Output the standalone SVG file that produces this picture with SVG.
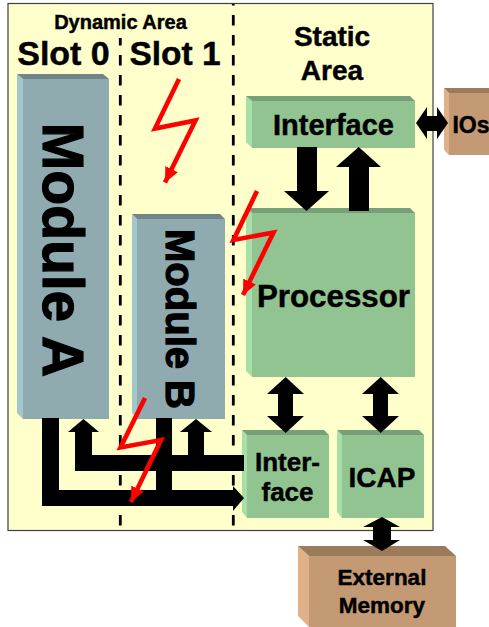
<svg xmlns="http://www.w3.org/2000/svg" width="489" height="627" viewBox="0 0 489 627">
<style>
text{font-family:"Liberation Sans",Arial,sans-serif;font-weight:bold;fill:#000;stroke:#000;stroke-width:.45;text-anchor:middle}
.heavy{stroke-width:1.2}
.gf{fill:#92C492}.gl{fill:#A6E0A6}.gt{fill:#78A078}
.bf{fill:#8FABAF}.bl{fill:#A3C6CC}.bt{fill:#6F8587}
.tf{fill:#C49A74}.tl{fill:#E0B088}.tt{fill:#9C7B5C}
.dash{stroke:#000;stroke-width:2.8;stroke-dasharray:10.500 9.500;fill:none}
.arrow{fill:#000}
.bolt{fill:none;stroke:#FF0000;stroke-width:4.600;stroke-linejoin:miter;marker-end:url(#tip)}
</style>
<defs>
<marker id="tip" markerUnits="userSpaceOnUse" markerWidth="15" markerHeight="15" refX="15" refY="7.500" orient="auto" viewBox="0 0 15 15">
<path d="M0,0.500L15,7.500L0,14.500Z" fill="#FF0000"/>
</marker>
</defs>
<rect x="8" y="3.500" width="425" height="527" fill="#FFFFCC" stroke="#404040" stroke-width="1.200"/>
<g id="dividers">
<path class="dash" stroke-dashoffset="3" d="M120.300,38V530"/>
<path class="dash" stroke-dashoffset="9" d="M233.300,4V530"/>
</g>
<g id="labels">
<text x="120.500" y="29" font-size="20">Dynamic Area</text>
<text x="63.500" y="65" font-size="34">Slot 0</text>
<text x="175" y="65" font-size="33.500">Slot 1</text>
<text x="332" y="46" font-size="28">Static</text>
<text x="332" y="80" font-size="28">Area</text>
</g>
<g id="module-a">
<path class="bl" d="M17,74L23,79V419L17,413Z"/><path class="bt" d="M17,74H103L109,79H23Z"/><rect class="bf" x="23" y="79" width="86" height="340"/>
<text class="heavy" transform="translate(43,250) rotate(90)" font-size="57">Module A</text>
</g>
<g id="module-b">
<path class="bl" d="M132,214L137,219V419L132,413Z"/><path class="bt" d="M132,214H220L225,219H137Z"/><rect class="bf" x="137" y="219" width="88" height="200"/>
<text class="heavy" transform="translate(166,319) rotate(90)" font-size="40">Module B</text>
</g>
<g id="interface-top">
<path class="gl" d="M246,96L252,101V148L246,142Z"/><path class="gt" d="M246,96H410L415,101H252Z"/><rect class="gf" x="252" y="101" width="163" height="47"/>
<text x="333.500" y="135" font-size="29">Interface</text>
</g>
<g id="ios">
<path class="tl" d="M444,88L449,93V155L444,150Z"/><path class="tt" d="M444,88H489V93H449Z"/><rect class="tf" x="449" y="93" width="40" height="62"/>
<text x="471" y="133" font-size="23">IOs</text>
</g>
<g id="processor">
<path class="gl" d="M246,208L252,213V377L246,371Z"/><path class="gt" d="M246,208H410L415,213H252Z"/><rect class="gf" x="252" y="213" width="163" height="164"/>
<text x="333.500" y="307" font-size="31.300">Processor</text>
</g>
<g id="interface-bottom">
<path class="gl" d="M242,430L247,435V518L242,512Z"/><path class="gt" d="M242,430H324L329,435H247Z"/><rect class="gf" x="247" y="435" width="82" height="83"/>
<text x="287.500" y="471" font-size="26">Inter-</text>
<text x="287.500" y="501" font-size="26">face</text>
</g>
<g id="icap">
<path class="gl" d="M337,430L342,435V518L337,512Z"/><path class="gt" d="M337,430H419L424,435H342Z"/><rect class="gf" x="342" y="435" width="82" height="83"/>
<text x="382" y="487" font-size="28">ICAP</text>
</g>
<g id="external-memory">
<path class="tl" d="M298,546L309,556V627L298,616Z"/><path class="tt" d="M298,546H445L456,556H309Z"/><rect class="tf" x="309" y="556" width="147" height="71"/>
<text x="382" y="585" font-size="22.500">External</text>
<text x="382" y="613" font-size="22.500">Memory</text>
</g>
<g id="connectors">
<path class="arrow" d="M297,147H317V191H329L306.500,211L284,191H297Z"/>
<path class="arrow" d="M349,211V167H336L358.700,147L381,167H369V211Z"/>
<path class="arrow" d="M416,123L427,107V116H437V107L448,123L437,139V131H427V139Z"/>
<path class="arrow" d="M285.700,377L304,394H293V416H304L285.700,433L267,416H278V394H267Z"/>
<path class="arrow" d="M380.700,377L399,394H388V416H399L380.700,433L362,416H373V394H362Z"/>
<path class="arrow" d="M382,517L400,527H391V540H400L382,551L363,540H373V527H363Z"/>
<path class="arrow" d="M42,418H59V490H156V418H172V490H233V486L244,498L233,511V506H42Z"/>
<path class="arrow" d="M75,471V432H68L83.500,419L99,432H92V455H188V432H180L196,419L212,432H204V455H244V471Z"/>
</g>
<g id="faults">
<path class="bolt" d="M179,79L155,128.500L195.500,120.500L165,182.500"/>
<path class="bolt" d="M257,191L233.500,240L273.500,232.500L243,295"/>
<path class="bolt" d="M145,398L120.500,447.500L161,440L131,502"/>
</g>
</svg>
